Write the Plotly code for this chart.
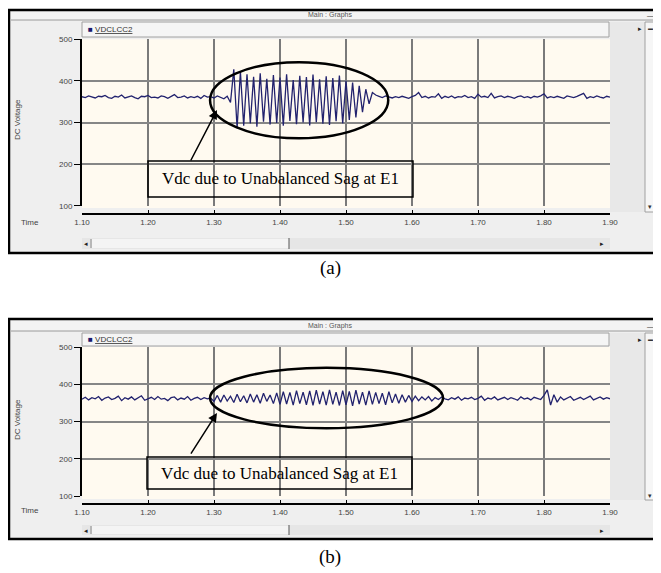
import numpy as np
import plotly.graph_objects as go

W, H = 661, 573
OFF = 8  # page body margin: the figure starts 8 px in from the window's corner
FW, FH = W - OFF, H - OFF

# ---------------- data ----------------
T_STEP = 0.005
series_name = "VDCLCC2"
note_text = "Vdc due to Unabalanced Sag at E1"
captions = ["(a)", "(b)"]

x_ticks = [1.10, 1.20, 1.30, 1.40, 1.50, 1.60, 1.70, 1.80, 1.90]
x_ticklabels = ["1.10", "1.20", "1.30", "1.40", "1.50", "1.60", "1.70", "1.80", "1.90"]
y_ticks = [100, 200, 300, 400, 500]
y_ticklabels = ["100", "200", "300", "400", "500"]

# panel (a)
a_pre_start = 1.100
a_pre = [362, 360, 364, 361, 359, 363, 362, 365, 360, 358,
         363, 361, 366, 359, 362, 364, 360, 357, 363, 362,
         365, 360, 361, 359, 364, 362, 358, 363, 367, 360,
         361, 364, 359, 362, 360, 363, 358, 365, 361, 362,
         359, 364, 360, 357, 363]
a_osc_start = 1.325
a_osc = [348, 428, 286, 422, 292, 416, 298, 410, 290, 418,
         302, 405, 295, 414, 299, 408, 292, 416, 304, 402,
         296, 412, 300, 409, 293, 415, 301, 404, 297, 411,
         294, 407, 303, 413, 298, 400, 306, 396, 312, 388,
         325, 380, 345]
a_post_start = 1.540
a_post = [372, 366, 363, 360, 364, 361, 359, 362, 360, 363,
          361, 358, 362, 365, 372, 360, 363, 359, 362, 361,
          369, 358, 363, 360, 364, 359, 362, 361, 365, 360,
          362, 358, 368, 361, 363, 360, 370, 359, 362, 364,
          360, 363, 361, 358, 362, 364, 360, 362, 359, 363,
          361, 364, 369, 359, 362, 360, 363, 361, 358, 364,
          362, 360, 363, 366, 370, 358, 362, 360, 364, 361,
          359, 363, 361]

# panel (b)
b_pre_start = 1.100
b_pre = [360, 365, 358, 364, 361, 367, 357, 363, 366, 359,
         362, 368, 356, 364, 360, 366, 358, 363, 369, 357,
         361, 365, 359, 367, 360, 362, 356, 364, 366, 358,
         363, 360, 367, 357, 362, 365, 359, 364, 361, 363]
b_osc_start = 1.300
b_osc = [354, 370, 352, 371, 355, 368, 351, 373, 353, 369,
         350, 374, 352, 372, 349, 376, 354, 371, 348, 377,
         346, 380, 347, 378, 344, 383, 348, 379, 345, 382,
         343, 384, 347, 380, 344, 385, 346, 379, 343, 383,
         345, 381, 342, 384, 347, 379, 344, 382, 346, 378,
         348, 376, 345, 380, 350, 374, 349, 372, 352, 370,
         354, 368, 356, 366, 358, 367, 355, 364, 359, 366, 361]
b_post_start = 1.655
b_post = [358, 364, 360, 366, 357, 363, 361, 365, 359, 362,
          368, 357, 363, 360, 366, 358, 362, 365, 359, 364,
          361, 357, 366, 360, 363, 358, 365, 361, 359, 370,
          385, 344, 372, 352, 366, 358, 363, 367, 357, 362,
          365, 359, 363, 368, 358, 362, 366, 360, 364, 361]


def build(parts):
    t, v = [], []
    for start, vals in parts:
        t.extend(list(start + T_STEP * np.arange(len(vals))))
        v.extend(vals)
    return t, v


ta, va = build([(a_pre_start, a_pre), (a_osc_start, a_osc), (a_post_start, a_post)])
tb, vb = build([(b_pre_start, b_pre), (b_osc_start, b_osc), (b_post_start, b_post)])

# ---------------- layout helpers (window pixel -> paper fraction) ----------------
def px(x):
    return (x - OFF) / FW


def py(y):
    return 1 - (y - OFF) / FH


def rect(x0, y0, x1, y1, fill, lc=None, lw=0, layer="below"):
    return dict(type="rect", xref="paper", yref="paper",
                x0=px(x0), x1=px(x1), y0=py(y1), y1=py(y0),
                fillcolor=fill, line=dict(color=lc or "rgba(0,0,0,0)", width=lw),
                layer=layer)


def hline(x0, x1, y, color, w=1):
    return dict(type="line", xref="paper", yref="paper", x0=px(x0), x1=px(x1),
                y0=py(y), y1=py(y), line=dict(color=color, width=w), layer="below")


def vline(x, y0, y1, color, w=1):
    return dict(type="line", xref="paper", yref="paper", x0=px(x), x1=px(x),
                y0=py(y0), y1=py(y1), line=dict(color=color, width=w), layer="below")


def label(x, y, text, size=8, color="#444", family="Liberation Sans", xanchor="center", angle=0):
    return dict(xref="paper", yref="paper", x=px(x), y=py(y), text=text, showarrow=False,
                font=dict(size=size, color=color, family=family), xanchor=xanchor,
                yanchor="middle", textangle=angle)


panels = [
    dict(frame=(9, 10, 656, 253), title_y=15, title_line=20, header=(82, 22, 609, 37),
         plot=(82, 39.3, 610, 205.7), cream_bottom=208, axis_y=214, scroll=(238, 249),
         caption_y=268, time_y=223, dc_y=120, vs=(22, 212)),
    dict(frame=(9, 319, 656, 539), title_y=326, title_line=331, header=(82, 333, 609, 346),
         plot=(82, 347, 610, 496), cream_bottom=499, axis_y=504, scroll=(525, 535),
         caption_y=557, time_y=510, dc_y=420, vs=(333, 500)),
]

shapes = []
annotations = []
for i, p in enumerate(panels):
    fx0, fy0, fx1, fy1 = p["frame"]
    hx0, hy0, hx1, hy1 = p["header"]
    plx0, ply0, plx1, ply1 = p["plot"]
    s0, s1 = p["scroll"]
    v0, v1 = p["vs"]
    shapes += [
        rect(fx0, fy0, fx1, fy1, "#efefef", "black", 2.5),
        rect(fx0 + 2, fy0 + 2, fx1 - 2, p["title_line"], "#f3f3f3"),
        hline(fx0 + 2, fx1 - 2, p["title_line"], "#9a9a9a", 1),
        rect(plx1, hy0, 645, v1, "#e8e8e8"),
        rect(645, v0, fx1 - 2, v1, "#f6f6f6", "#a0a0a0", 1),
        rect(hx0, hy0, hx1, hy1, "#f5f5f5", "#a0a0a0", 1),
        rect(plx0, ply0, plx1, p["cream_bottom"], "#fffaf0"),
        rect(plx0, s0, plx1, s1, "#e6e6e6"),
        rect(plx0 + 10, s0 + 1, 289, s1 - 1, "#f4f4f4"),
        vline(289, s0, s1, "#555", 1),
        vline(plx0 + 9, s0 + 1, s1 - 1, "#888", 1),
    ]
    annotations += [
        label(330, p["title_y"], "Main : Graphs", size=7, color="#555"),
        label(650, p["title_y"], "—", size=7, color="#333"),
        label(640, hy0 + 6, "▸", size=7, color="#222"),
        label(650, hy0 + 6, "▬", size=5, color="#333"),
        label(650, v1 - 5, "▾", size=7, color="#333"),
        label(86, (s0 + s1) / 2, "◂", size=7, color="#222"),
        label(602, (s0 + s1) / 2, "▸", size=7, color="#222"),
        label(30, p["time_y"], "Time", size=8, color="#444"),
        label(17, p["dc_y"], "DC Voltage", size=8, color="#444", angle=-90),
        label(86, (hy0 + hy1) / 2,
              '<span style="color:#1a1a6e">■</span> <u>' + series_name + "</u>",
              size=8, color="#333", xanchor="left"),
        label(330, p["caption_y"], captions[i], size=19, color="black",
              family="Liberation Serif"),
    ]

fig = go.Figure()
fig.add_trace(go.Scatter(x=ta, y=va, mode="lines", name=series_name,
                         line=dict(color="#22226e", width=1.3), xaxis="x", yaxis="y",
                         showlegend=False))
fig.add_trace(go.Scatter(x=tb, y=vb, mode="lines", name=series_name,
                         line=dict(color="#22226e", width=1.3), xaxis="x2", yaxis="y2",
                         showlegend=False))

tickfont = dict(size=8, color="#444", family="Liberation Sans")


def xax(p):
    return dict(domain=[px(p["plot"][0]), px(p["plot"][2])], range=[1.1, 1.9],
                anchor="free", position=py(p["axis_y"]), automargin=False,
                tickvals=x_ticks, ticktext=x_ticklabels, showline=True, linecolor="black",
                linewidth=2, ticks="inside", ticklen=3, tickcolor="black",
                showgrid=True, gridcolor="#7a7a7a", gridwidth=1.6, zeroline=False,
                tickfont=tickfont, fixedrange=True)


def yax(p, xname):
    return dict(domain=[py(p["plot"][3]), py(p["plot"][1])], range=[100, 500],
                anchor=xname, automargin=False, tickvals=y_ticks, ticktext=y_ticklabels,
                showline=True, linecolor="black", linewidth=2, ticks="outside", ticklen=6,
                tickcolor="black", showgrid=True, gridcolor="#868686", gridwidth=1.6,
                zeroline=False, tickfont=tickfont, fixedrange=True)


# annotation marks in data coordinates
ell = [dict(x0=1.294, x1=1.564, y0=262, y1=445, ref=("x", "y")),
       dict(x0=1.294, x1=1.647, y0=282, y1=444, ref=("x2", "y2"))]
box = [dict(x0=1.200, x1=1.6015, y0=121, y1=207.5, ref=("x", "y")),
       dict(x0=1.1985, x1=1.600, y0=119, y1=204.5, ref=("x2", "y2"))]
arrows = [dict(x=1.3045, y=330, ax=1.2636, ay=205, ref=("x", "y")),
          dict(x=1.3045, y=323, ax=1.2636, ay=210, ref=("x2", "y2"))]

for e in ell:
    shapes.append(dict(type="circle", xref=e["ref"][0], yref=e["ref"][1],
                       x0=e["x0"], x1=e["x1"], y0=e["y0"], y1=e["y1"],
                       line=dict(color="black", width=2.5), layer="above"))
for b in box:
    shapes.append(dict(type="rect", xref=b["ref"][0], yref=b["ref"][1],
                       x0=b["x0"], x1=b["x1"], y0=b["y0"], y1=b["y1"],
                       line=dict(color="black", width=1.5), layer="above"))
    annotations.append(dict(xref=b["ref"][0], yref=b["ref"][1],
                            x=(b["x0"] + b["x1"]) / 2, y=(b["y0"] + b["y1"]) / 2,
                            text=note_text, showarrow=False,
                            font=dict(size=17, color="black", family="Liberation Serif")))
for a in arrows:
    annotations.append(dict(xref=a["ref"][0], yref=a["ref"][1], x=a["x"], y=a["y"],
                            ax=a["ax"], ay=a["ay"], axref=a["ref"][0], ayref=a["ref"][1],
                            text="", showarrow=True, arrowhead=2, arrowsize=1.2,
                            arrowwidth=1.5, arrowcolor="black"))

fig.update_layout(
    template="none",
    width=FW, height=FH, margin=dict(l=0, r=0, t=0, b=0, pad=0, autoexpand=False),
    paper_bgcolor="white", plot_bgcolor="rgba(0,0,0,0)",
    xaxis=xax(panels[0]), yaxis=yax(panels[0], "x"),
    xaxis2=xax(panels[1]), yaxis2=yax(panels[1], "x2"),
    shapes=shapes, annotations=annotations, showlegend=False,
)

fig.write_html("out.html")
